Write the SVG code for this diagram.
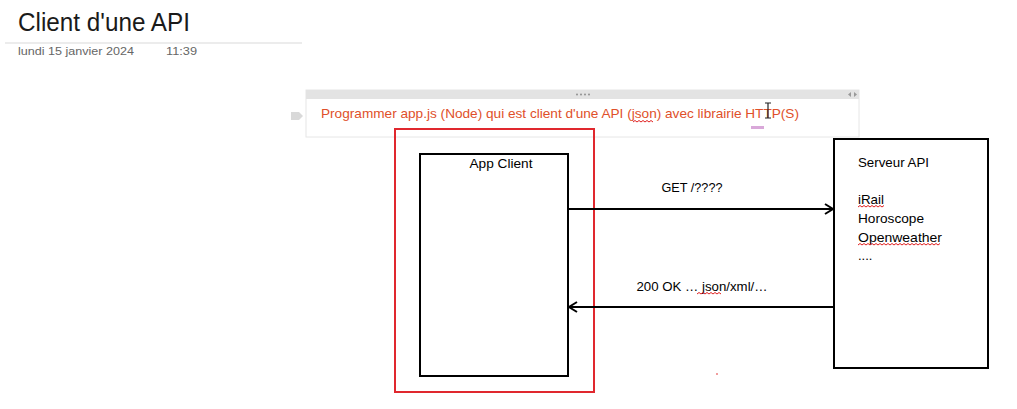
<svg xmlns="http://www.w3.org/2000/svg" width="1017" height="409" viewBox="0 0 1017 409">
<style>
.t{font-family:"Liberation Sans",Arial,sans-serif;fill:#000;font-size:13px}
.box{fill:#fff;stroke:#000;stroke-width:2}
.conn{stroke:#000;stroke-width:2;fill:none}
.sq{stroke:#e02020;stroke-width:1;fill:none}
</style>
<defs>
<marker id="ah" markerWidth="12" markerHeight="12" refX="9" refY="6" orient="auto" markerUnits="userSpaceOnUse">
<polyline points="1,1 9,6 1,11" fill="none" stroke="#000" stroke-width="2"/>
</marker>
</defs>
<rect width="1017" height="409" fill="#fff"/>
<g id="header">
<text x="18" y="31" font-family="'Liberation Sans',Arial,sans-serif" font-size="25" fill="#1a1a1a" textLength="172" lengthAdjust="spacingAndGlyphs">Client d'une API</text>
<line x1="5" y1="43" x2="302" y2="43" stroke="#d9d9d9" stroke-width="1"/>
<text x="18" y="55" font-family="'Liberation Sans',Arial,sans-serif" font-size="11" fill="#666" textLength="116" lengthAdjust="spacingAndGlyphs">lundi 15 janvier 2024</text>
<text x="166" y="55" font-family="'Liberation Sans',Arial,sans-serif" font-size="11" fill="#666" textLength="31" lengthAdjust="spacingAndGlyphs">11:39</text>
</g>
<g id="note">
<rect x="306" y="90" width="553" height="47" fill="#fff" stroke="#e6e6e6" stroke-width="1"/>
<rect x="306" y="90" width="553" height="9" fill="#e3e3e3"/>
<g fill="#888"><circle cx="577" cy="94.5" r="0.9"/><circle cx="581" cy="94.5" r="0.9"/><circle cx="585" cy="94.5" r="0.9"/><circle cx="589" cy="94.5" r="0.9"/></g>
<polygon points="851,92 848,94.5 851,97" fill="#999"/>
<polygon points="854,92 857,94.5 854,97" fill="#999"/>
<polygon points="291,112 299,112 303,116 299,120 291,120" fill="#d9d9d9"/>
<text x="321" y="118" font-family="'Liberation Sans',Arial,sans-serif" font-size="13" fill="#e0502a" textLength="478" lengthAdjust="spacingAndGlyphs">Programmer app.js (Node) qui est client d'une API (json) avec librairie HTTP(S)</text>
<path class="sq" d="M633,122 l2,-1.5 l2,1.5 l2,-1.5 l2,1.5 l2,-1.5 l2,1.5 l2,-1.5 l2,1.5 l2,-1.5 l2,1.5"/>
<path d="M765,103 h6 M768,103 v15 M765,118 h6" stroke="#222" stroke-width="1.2" fill="none"/>
<rect x="751" y="126" width="13" height="3" fill="#d9a8d9"/>
</g>
<g id="client-frame">
<rect x="395" y="129" width="199" height="263" fill="none" stroke="#e0282e" stroke-width="2"/>
</g>
<g id="app-client">
<rect class="box" x="420" y="154" width="148" height="222"/>
<text class="t" x="501" y="168" text-anchor="middle" textLength="63" lengthAdjust="spacingAndGlyphs">App Client</text>
</g>
<g id="serveur-api">
<rect class="box" x="834" y="139" width="154" height="229"/>
<text class="t" x="858" y="167" textLength="71" lengthAdjust="spacingAndGlyphs">Serveur API</text>
<text class="t" x="858" y="204" textLength="26" lengthAdjust="spacingAndGlyphs">iRail</text>
<text class="t" x="858" y="223" textLength="66" lengthAdjust="spacingAndGlyphs">Horoscope</text>
<text class="t" x="858" y="242" textLength="84" lengthAdjust="spacingAndGlyphs">Openweather</text>
<text class="t" x="858" y="260">....</text>
<path class="sq" d="M858,207 l2,-1.5 l2,1.5 l2,-1.5 l2,1.5 l2,-1.5 l2,1.5 l2,-1.5 l2,1.5 l2,-1.5 l2,1.5 l2,-1.5 l2,1.5 l2,-1.5"/>
<path class="sq" d="M858,245 l2,-1.5 l2,1.5 l2,-1.5 l2,1.5 l2,-1.5 l2,1.5 l2,-1.5 l2,1.5 l2,-1.5 l2,1.5 l2,-1.5 l2,1.5 l2,-1.5 l2,1.5 l2,-1.5 l2,1.5 l2,-1.5 l2,1.5 l2,-1.5 l2,1.5 l2,-1.5 l2,1.5 l2,-1.5 l2,1.5 l2,-1.5 l2,1.5 l2,-1.5 l2,1.5 l2,-1.5 l2,1.5 l2,-1.5 l2,1.5 l2,-1.5 l2,1.5 l2,-1.5 l2,1.5 l2,-1.5 l2,1.5 l2,-1.5 l2,1.5 l2,-1.5"/>
</g>
<g id="connectors">
<line class="conn" x1="568" y1="209" x2="833" y2="209" marker-end="url(#ah)"/>
<text class="t" x="692" y="192" text-anchor="middle" textLength="61" lengthAdjust="spacingAndGlyphs">GET /????</text>
<line class="conn" x1="834" y1="307" x2="569" y2="307" marker-end="url(#ah)"/>
<text class="t" x="702" y="291" text-anchor="middle" textLength="131" lengthAdjust="spacingAndGlyphs">200 OK … json/xml/…</text>
<path class="sq" d="M697,294 l2,-1.5 l2,1.5 l2,-1.5 l2,1.5 l2,-1.5 l2,1.5 l2,-1.5 l2,1.5 l2,-1.5 l2,1.5 l2,-1.5 l2,1.5"/>
</g>
<circle cx="717" cy="374" r="0.8" fill="#e02020"/>
</svg>
